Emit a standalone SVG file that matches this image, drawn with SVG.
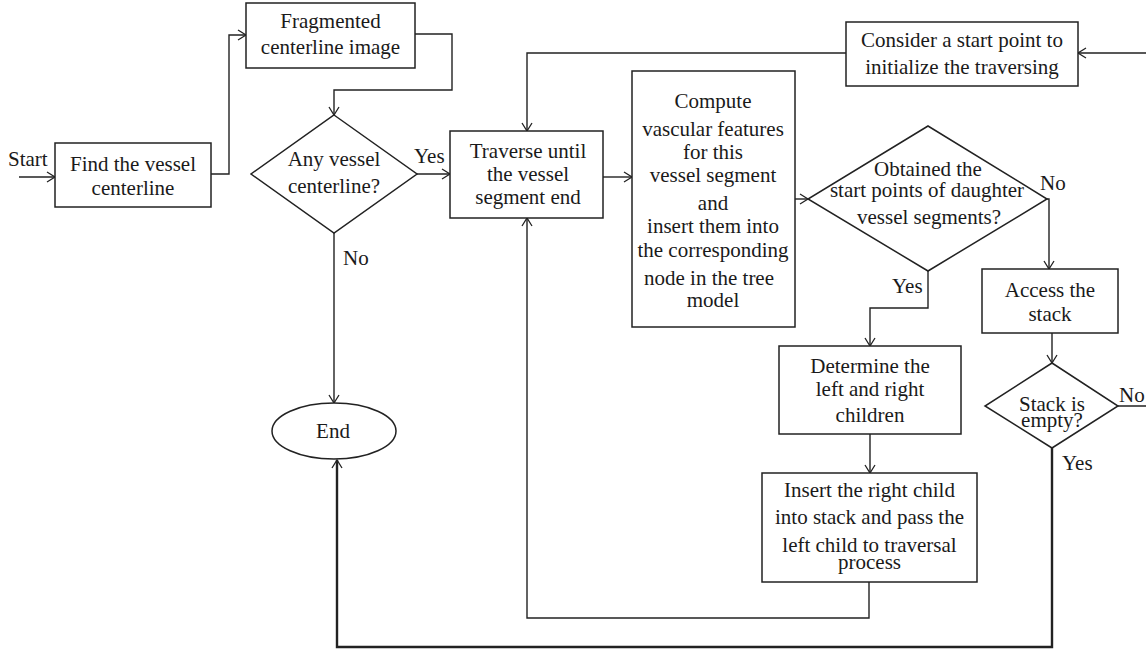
<svg xmlns="http://www.w3.org/2000/svg" width="1146" height="651" viewBox="0 0 1146 651">
<defs>
<marker id="arr" markerWidth="12" markerHeight="12" refX="9" refY="6" orient="auto" markerUnits="userSpaceOnUse">
<path d="M1,1 L9,6 L1,11" fill="none" stroke="#222" stroke-width="1.3"/>
</marker>
</defs>
<style>
.box{fill:#fff;stroke:#222;stroke-width:1.5}
.t{font-family:"Liberation Serif","Times New Roman",serif;font-size:21px;fill:#1a1a1a;text-anchor:middle}
.l{font-family:"Liberation Serif","Times New Roman",serif;font-size:21px;fill:#1a1a1a}
.c{fill:none;stroke:#222;stroke-width:1.4;marker-end:url(#arr)}
.cn{fill:none;stroke:#222;stroke-width:1.4}
.thick{stroke-width:2.4}
</style>
<rect width="1146" height="651" fill="#fff"/>
<g id="connectors">
<path class="c" d="M19,177 L55,177"/>
<path class="c" d="M211,174 L229,174 L229,35 L246,35"/>
<path class="c" d="M415,34 L452,34 L452,90 L334,90 L334,115"/>
<path class="c" d="M417,174 L450,174"/>
<path class="c" d="M334,233 L334,403"/>
<path class="c" d="M603,177 L632,177"/>
<path class="c" d="M795,199 L808,199"/>
<path class="c" d="M928,271 L928,308 L870,308 L870,346"/>
<path class="c" d="M1047,199 L1049,199 L1049,269"/>
<path class="c" d="M870,434 L870,473"/>
<path class="c" d="M869,582 L869,618 L527,618 L527,218"/>
<path class="c" d="M1052,333 L1052,363"/>
<path class="c thick" d="M1052,448 L1052,647 L337,647 L337,460"/>
<path class="c" d="M1118,406 L1152,406 L1152,53 L1078,53"/>
<path class="c" d="M846,53 L527,53 L527,131"/>
</g>
<g id="labels">
<text class="l" x="8" y="166">Start</text>
<text class="l" x="414" y="163">Yes</text>
<text class="l" x="343" y="265">No</text>
<text class="l" x="1040" y="190">No</text>
<text class="l" x="892" y="293">Yes</text>
<text class="l" x="1119" y="402">No</text>
<text class="l" x="1062" y="470">Yes</text>
</g>
<g id="find">
<rect class="box" x="55" y="143" width="156" height="64"/>
<text class="t" x="133" y="171">Find the vessel</text>
<text class="t" x="133" y="195">centerline</text>
</g>
<g id="fragmented">
<rect class="box" x="246" y="3" width="169" height="65"/>
<text class="t" x="330.5" y="28">Fragmented</text>
<text class="t" x="330.5" y="54">centerline image</text>
</g>
<g id="any-vessel">
<polygon class="box" points="334,115 417,174 334,233 251,174"/>
<text class="t" x="334" y="166">Any vessel</text>
<text class="t" x="334" y="193">centerline?</text>
</g>
<g id="end">
<ellipse class="box" cx="334" cy="431" rx="62" ry="28"/>
<text class="t" x="333" y="438">End</text>
</g>
<g id="traverse">
<rect class="box" x="450" y="131" width="153" height="87"/>
<text class="t" x="528" y="158">Traverse until</text>
<text class="t" x="528" y="181">the vessel</text>
<text class="t" x="528" y="204">segment end</text>
</g>
<g id="compute">
<rect class="box" x="632" y="71" width="163" height="256"/>
<text class="t" x="713" y="108">Compute</text>
<text class="t" x="713" y="136">vascular features</text>
<text class="t" x="713" y="159">for this</text>
<text class="t" x="713" y="182">vessel segment</text>
<text class="t" x="713" y="210">and</text>
<text class="t" x="713" y="233">insert them into</text>
<text class="t" x="713" y="257">the corresponding</text>
<text class="t" x="709" y="285">node in the tree</text>
<text class="t" x="713" y="307">model</text>
</g>
<g id="consider">
<rect class="box" x="846" y="22" width="232" height="64"/>
<text class="t" x="962" y="47">Consider a start point to</text>
<text class="t" x="962" y="74">initialize the traversing</text>
</g>
<g id="obtained">
<polygon class="box" points="928,126 1047,199 928,271 808,199"/>
<text class="t" x="928" y="176">Obtained the</text>
<text class="t" x="927" y="197">start points of daughter</text>
<text class="t" x="929" y="224">vessel segments?</text>
</g>
<g id="access">
<rect class="box" x="982" y="269" width="136" height="64"/>
<text class="t" x="1050" y="297">Access the</text>
<text class="t" x="1050" y="321">stack</text>
</g>
<g id="stack-empty">
<polygon class="box" points="1052,363 1118,406 1052,448 985,406"/>
<text class="t" x="1052" y="411">Stack is</text>
<text class="t" x="1052" y="427">empty?</text>
</g>
<g id="determine">
<rect class="box" x="779" y="346" width="182" height="88"/>
<text class="t" x="870" y="373">Determine the</text>
<text class="t" x="870" y="396">left and right</text>
<text class="t" x="870" y="422">children</text>
</g>
<g id="insert">
<rect class="box" x="762" y="473" width="215" height="109"/>
<text class="t" x="869.5" y="497">Insert the right child</text>
<text class="t" x="869.5" y="524">into stack and pass the</text>
<text class="t" x="869.5" y="552">left child to traversal</text>
<text class="t" x="869.5" y="569">process</text>
</g>
</svg>
